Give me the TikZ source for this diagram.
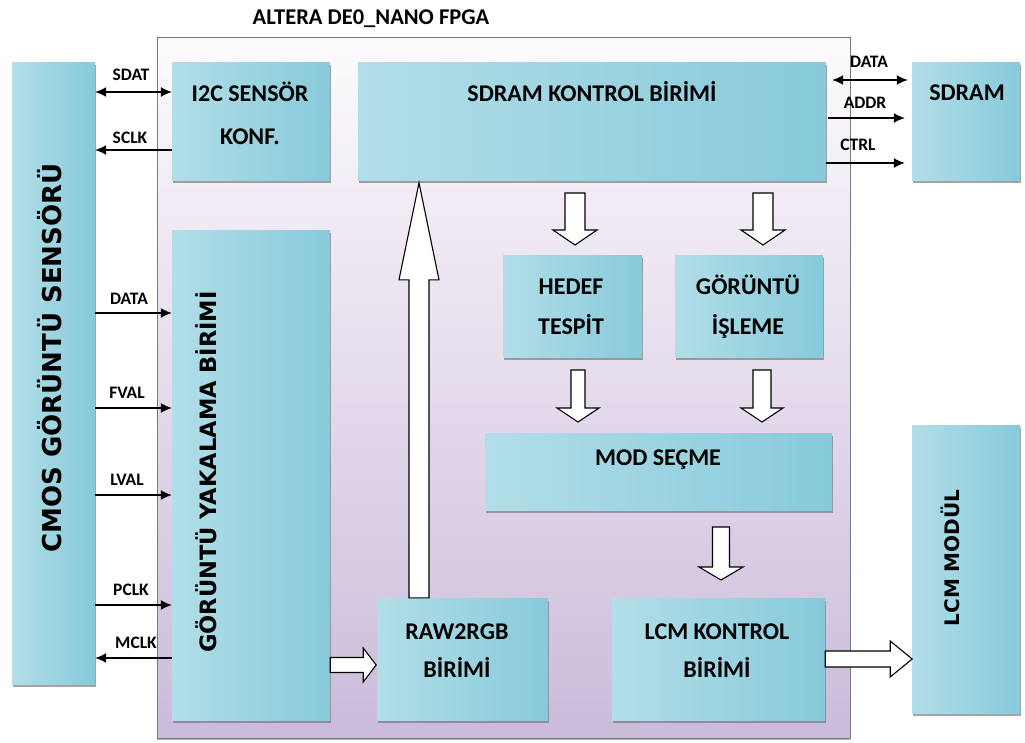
\documentclass[tikz,border=0pt]{standalone}
\usepackage{fontspec}
\setmainfont{Carlito}
\newfontfamily\widesans{DejaVu Sans}
\usetikzlibrary{arrows.meta,shadows,fit}

\definecolor{unitedge}{RGB}{135,202,218}
\definecolor{unitside}{RGB}{178,222,232}
\definecolor{unitmid}{RGB}{232,246,249}
\definecolor{fpgatop}{RGB}{253,251,253}
\definecolor{fpgabot}{RGB}{203,187,218}
\definecolor{rimgray}{RGB}{120,120,128}

\begin{document}
\begin{tikzpicture}[x=1pt,y=-1pt,
  unit/.style={inner sep=0pt, draw=none, left color=unitside, middle color=unitmid, right color=unitedge,
    drop shadow={shadow xshift=1pt, shadow yshift=-3pt, fill=black!55, opacity=.65}},
  board/.style={inner sep=0pt, draw=rimgray, line width=0.8pt, top color=fpgatop, bottom color=fpgabot,
    drop shadow={shadow xshift=0pt, shadow yshift=-2pt, fill=black!50, opacity=.6}},
  boxtxt/.style={font=\bfseries\fontsize{24}{40}\selectfont, align=center, inner sep=0pt},
  sidetxt/.style={font=\widesans\bfseries, rotate=90, inner sep=0pt},
  sigtxt/.style={font=\bfseries\fontsize{17.5}{17.5}\selectfont, inner sep=0pt},
  sig/.style={line width=1.4pt, -{Latex[length=11pt,width=10pt]}},
  sigboth/.style={line width=1.4pt, {Latex[length=11pt,width=10pt]}-{Latex[length=11pt,width=10pt]}},
  fat/.style={draw=black, line width=1.1pt, fill=white, line join=miter},
  % hollow block arrow along +x: length, half shaft, half head, head length
  pics/hollow/.style n args={4}{code={
    \draw[fat] (0,-#2) -- ({#1-#4},-#2) -- ({#1-#4},-#3) -- (#1,0)
      -- ({#1-#4},#3) -- ({#1-#4},#2) -- (0,#2) -- cycle;}}
]
\useasboundingbox (0,0) rectangle (1025,742);

% FPGA board
\node[board, fit={(157,37) (850,738)}] (fpga) {};
\node[font=\bfseries\fontsize{22.5}{22.5}\selectfont, inner sep=0pt] (title) at (371,19) {ALTERA DE0\_NANO FPGA};

% functional units
\node[unit, fit={(12,62) (95,684)}] (cmos) {};
\node[unit, fit={(172,62) (330,180)}] (i2c) {};
\node[unit, fit={(358,62) (826,180)}] (sdramk) {};
\node[unit, fit={(912,62) (1020,180)}] (sdram) {};
\node[unit, fit={(172,230) (330,720)}] (yakala) {};
\node[unit, fit={(503,255) (642,357)}] (hedef) {};
\node[unit, fit={(675,255) (823,357)}] (isleme) {};
\node[unit, fit={(485,433) (832,510)}] (mod) {};
\node[unit, fit={(377,598) (548,720)}] (raw) {};
\node[unit, fit={(612,598) (825,720)}] (lcmk) {};
\node[unit, fit={(912,425) (1020,713)}] (lcm) {};

% unit captions
\node[sidetxt, font=\widesans\bfseries\fontsize{26}{26}\selectfont] (cmostxt) at (50,358) {CMOS GÖRÜNTÜ SENSÖRÜ};
\node[sidetxt, font=\widesans\bfseries\fontsize{22.5}{22.5}\selectfont] (yakalatxt) at (206,472) {GÖRÜNTÜ YAKALAMA BİRİMİ};
\node[sidetxt, font=\widesans\bfseries\fontsize{20}{20}\selectfont] (lcmtxt) at (950,558) {LCM MODÜL};
\node[boxtxt, font=\bfseries\fontsize{24}{43}\selectfont] (i2ctxt) at (250,113) {I2C SENSÖR\\KONF.};
\node[boxtxt] (sdramktxt) at (592,92) {SDRAM KONTROL BİRİMİ};
\node[boxtxt] (sdramtxt) at (967,93) {SDRAM};
\node[boxtxt] (hedeftxt) at (571,307) {HEDEF\\TESPİT};
\node[boxtxt] (islemetxt) at (748,307) {GÖRÜNTÜ\\İŞLEME};
\node[boxtxt] (modtxt) at (658,460) {MOD SEÇME};
\node[boxtxt, font=\bfseries\fontsize{24}{38}\selectfont] (rawtxt) at (457,651) {RAW2RGB\\BİRİMİ};
\node[boxtxt, font=\bfseries\fontsize{24}{38}\selectfont] (lcmktxt) at (717,651) {LCM KONTROL\\BİRİMİ};

% sensor interface signals
\draw[sigboth] (cmos.east |- 0,92) -- (i2c.west |- 0,92);
\draw[sig] (i2c.west |- 0,150) -- (cmos.east |- 0,150);
\draw[sig] (cmos.east |- 0,313) -- (yakala.west |- 0,313);
\draw[sig] (cmos.east |- 0,408) -- (yakala.west |- 0,408);
\draw[sig] (cmos.east |- 0,495) -- (yakala.west |- 0,495);
\draw[sig] (cmos.east |- 0,605) -- (yakala.west |- 0,605);
\draw[sig] (yakala.west |- 0,658) -- (cmos.east |- 0,658);
\node[sigtxt] (sdatlbl) at (131,75) {SDAT};
\node[sigtxt] (sclklbl) at (130,138) {SCLK};
\node[sigtxt] (datalbl) at (129,299) {DATA};
\node[sigtxt] (fvallbl) at (127,393) {FVAL};
\node[sigtxt] (lvallbl) at (127,480) {LVAL};
\node[sigtxt] (pclklbl) at (131,590) {PCLK};
\node[sigtxt] (mclklbl) at (136,643) {MCLK};

% SDRAM bus
\draw[sigboth, shorten <=6pt, shorten >=4pt] (sdramk.east |- 0,80) -- (sdram.west |- 0,80);
\draw[sig, shorten <=2pt, shorten >=7pt] (sdramk.east |- 0,118) -- (sdram.west |- 0,118);
\draw[sig, shorten >=7pt] (sdramk.east |- 0,163) -- (sdram.west |- 0,163);
\node[sigtxt] (sdatalbl) at (869,62) {DATA};
\node[sigtxt] (addrlbl) at (865,103) {ADDR};
\node[sigtxt] (ctrllbl) at (858,145) {CTRL};

% data path block arrows
\pic[rotate=90] (uparrow) at (raw.north -| 419,0) {hollow={415}{10}{20}{97}};
\pic[rotate=-90] (dn1) at (575,193) {hollow={52}{10}{22}{15}};
\pic[rotate=-90] (dn2) at (763,193) {hollow={52}{10}{22}{15}};
\pic[rotate=-90] (dn3) at (578,370) {hollow={52}{7}{21}{14}};
\pic[rotate=-90] (dn4) at (762,370) {hollow={52}{9}{21}{14}};
\pic[rotate=-90] (dn5) at (721,527) {hollow={53}{8.5}{22}{13}};
\pic (rt1) at (yakala.east |- 0,665) {hollow={46}{7.5}{17}{13}};
\pic (rt2) at (lcmk.east |- 0,659) {hollow={87}{8}{18}{22}};
\end{tikzpicture}
\end{document}
